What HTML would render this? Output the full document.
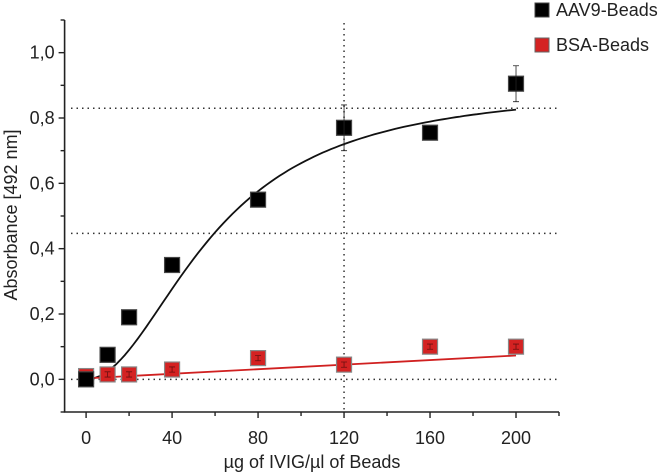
<!DOCTYPE html>
<html><head><meta charset="utf-8"><style>
body{margin:0;background:#fff;}
svg{display:block;font-family:"Liberation Sans",sans-serif;}
</style></head><body>
<svg id="chart" width="666" height="473"></svg>
<script>
const categories=[0,10,20,40,80,120,160,200];
const aavValues=[0,0.075,0.19,0.35,0.55,0.77,0.755,0.905];
const aavErrors=[0,0,0,0,0,0.07,0,0.055];
const bsaValues=[0.01,0.015,0.015,0.03,0.065,0.045,0.1,0.1];
const bsaErrors=[0.008,0.008,0.008,0.008,0.008,0.008,0.008,0.008];
const xTicks=[0,40,80,120,160,200];
const yTicks=[0,0.2,0.4,0.6,0.8,1.0];
const yTickLabels=["0,0","0,2","0,4","0,6","0,8","1,0"];
const aavFit=[0.9,60,2.0]; // Amax, EC50, Hill
const bsaFit=[0.003,0.00035]; // intercept, slope
const refLinesY=[0.83,0.447,0];
const refLinesX=[120];

const NS="http://www.w3.org/2000/svg";
const svg=document.getElementById('chart');
const X0=64.6,X1=559,Y0=412,Y1=20,xmin=-10,xmax=220,ymin=-0.1,ymax=1.1;
const sx=v=>X0+(v-xmin)/(xmax-xmin)*(X1-X0);
const sy=v=>Y0-(v-ymin)/(ymax-ymin)*(Y0-Y1);
function mk(tag,attrs,parent){const e=document.createElementNS(NS,tag);for(const k in attrs)e.setAttribute(k,attrs[k]);(parent||svg).appendChild(e);return e;}

refLinesY.forEach(v=>{const l=mk('line',{x1:71,x2:X1,y1:sy(v),y2:sy(v),stroke:'#333','stroke-width':1.5,'stroke-dasharray':'1.5 4'});

});
refLinesX.forEach(v=>{const l=mk('line',{x1:sx(v),x2:sx(v),y1:Y1+3,y2:Y0,stroke:'#333','stroke-width':1.5,'stroke-dasharray':'1.5 4'});

});

const ax=mk('path',{d:`M${X0},${Y1} V${Y0} H${X1}`,fill:'none',stroke:'#222','stroke-width':1.6});


for(let v=-0.1;v<=1.101;v+=0.1){const major=Math.abs(Math.round(v*10)%2)===0;
 mk('line',{x1:X0-(major?6:4),x2:X0,y1:sy(v),y2:sy(v),stroke:'#222','stroke-width':1.4});}
yTicks.forEach((v,i)=>{const t=mk('text',{x:X0-10,y:sy(v)+6,'text-anchor':'end','font-size':18,fill:'#222'});t.textContent=yTickLabels[i];

});
for(let v=0;v<=220;v+=20){mk('line',{x1:sx(v),x2:sx(v),y1:Y0,y2:Y0+(v%40===0?6:4),stroke:'#222','stroke-width':1.4});}
xTicks.forEach(v=>{const t=mk('text',{x:sx(v),y:Y0+32,'text-anchor':'middle','font-size':18,fill:'#222'});t.textContent=v;

});
const xt=mk('text',{x:312,y:468,'text-anchor':'middle','font-size':18,fill:'#222'});xt.textContent='µg of IVIG/µl of Beads';


const yt=mk('text',{x:0,y:0,'text-anchor':'middle','font-size':18,fill:'#222',transform:`translate(17,215) rotate(-90)`});yt.textContent='Absorbance [492 nm]';



let d='';for(let x=0;x<=200;x+=2){const r=Math.pow(x/aavFit[1],aavFit[2]);const y=aavFit[0]*r/(1+r);d+=(x?'L':'M')+sx(x).toFixed(1)+','+sy(y).toFixed(1);}
const c1=mk('path',{d,fill:'none',stroke:'#111','stroke-width':1.8});


const c2=mk('line',{x1:sx(0),y1:sy(bsaFit[0]),x2:sx(200),y2:sy(bsaFit[0]+bsaFit[1]*200),stroke:'#d02020','stroke-width':1.8});



function series(vals,errs,fill,stroke,name){
 categories.forEach((c,i)=>{const x=sx(c),y=sy(vals[i]);
  const s=mk('rect',{x:x-7.5,y:y-7.5,width:15,height:15,fill,stroke,'stroke-width':1.2});
  
  
  if(errs[i]>0){const e=mk('path',{d:`M${x},${sy(vals[i]+errs[i])}V${sy(vals[i]-errs[i])}M${x-3},${sy(vals[i]+errs[i])}h6M${x-3},${sy(vals[i]-errs[i])}h6`,stroke:name==='bsa'?'#6a1010':'#222','stroke-width':0.8,fill:'none'});
   
   }
 });}
series(bsaValues,bsaErrors,'#d42222','#888','bsa');
series(aavValues,aavErrors,'#000','#444','aav9');

[['AAV9-Beads','#000','#444',10],['BSA-Beads','#d42222','#666',45]].forEach(([lab,f,s,y])=>{
 const g=mk('g',{});
 
 
 mk('rect',{x:535,y:y-7,width:14,height:14,fill:f,stroke:s,'stroke-width':1},g);
 const t=mk('text',{x:556,y:y+6,'font-size':18,fill:'#222'},g);t.textContent=lab;});
</script>
</body></html>
